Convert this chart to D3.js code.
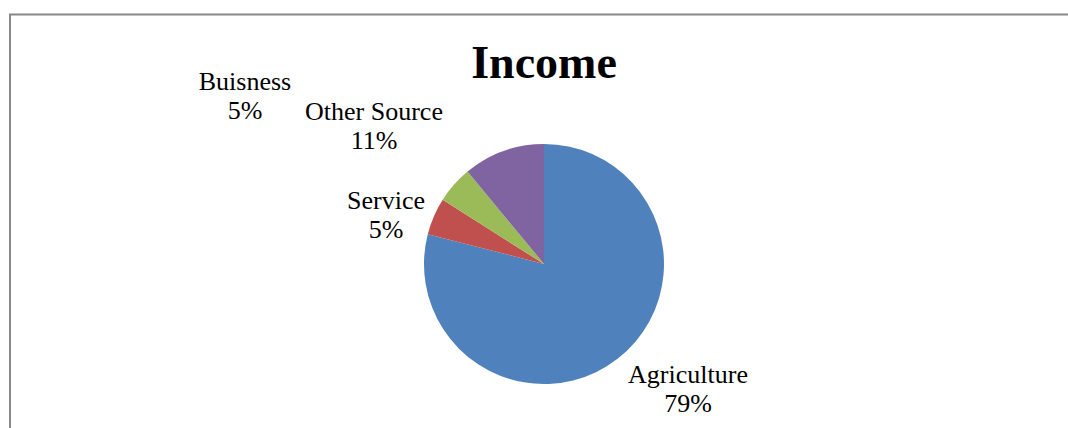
<!DOCTYPE html>
<html>
<head>
<meta charset="utf-8">
<script src="https://cdn.jsdelivr.net/npm/d3@7"></script>
<style>
  html, body { margin: 0; padding: 0; background: #fff; }
  svg { display: block; }
  text { font-family: "Liberation Serif", "Times New Roman", serif; }
</style>
</head>
<body>
<script>
// income sources, share of total
var categories = ['Agriculture', 'Service', 'Buisness', 'Other Source'];
var shares = [0.79, 0.05, 0.05, 0.11];
var colors = ['#4f81bd', '#c0504d', '#9bbb59', '#8064a2'];

// where each label sits, relative to the pie centre (Excel "best fit" look)
var labelOffsets = [[144, 119], [-158, -55], [-299, -174], [-170, -144]];

var width = 1068,
    height = 428,
    cx = 544,
    cy = 264,
    radius = 120;

var svg = d3.select('body')
    .append('svg')
    .attr('width', width)
    .attr('height', height);

// chart frame, runs off the right and bottom edges like the screenshot
svg.append('rect')
    .attr('x', 10)
    .attr('y', 14.5)
    .attr('width', width + 20)
    .attr('height', height + 20)
    .attr('fill', 'none')
    .attr('stroke', '#888')
    .attr('stroke-width', 2);

svg.append('text')
    .attr('x', cx)
    .attr('y', 78)
    .attr('text-anchor', 'middle')
    .attr('font-size', 46)
    .attr('font-weight', 'bold')
    .text('Income');

var data = categories.map(function(c, i){ return { name: c, value: shares[i], color: colors[i], off: labelOffsets[i] }; });

var pie = d3.pie()
    .sort(null)
    .value(function(d){ return d.value; });

var arc = d3.arc()
    .innerRadius(0)
    .outerRadius(radius);

var g = svg.append('g')
    .attr('transform', 'translate(' + cx + ',' + cy + ')');

g.selectAll('path')
    .data(pie(data))
    .enter()
    .append('path')
    .attr('d', arc)
    .attr('fill', function(d){ return d.data.color; });

var fmt = d3.format('.0%');

var labels = g.selectAll('text.lbl')
    .data(data)
    .enter()
    .append('text')
    .attr('class', 'lbl')
    .attr('text-anchor', 'middle')
    .attr('font-size', 26)
    .attr('fill', '#000')
    .attr('transform', function(d){ return 'translate(' + d.off[0] + ',' + d.off[1] + ')'; });

labels.append('tspan')
    .attr('x', 0)
    .attr('y', 0)
    .text(function(d){ return d.name; });

labels.append('tspan')
    .attr('x', 0)
    .attr('y', 29)
    .text(function(d){ return fmt(d.value); });
</script>
</body>
</html>
